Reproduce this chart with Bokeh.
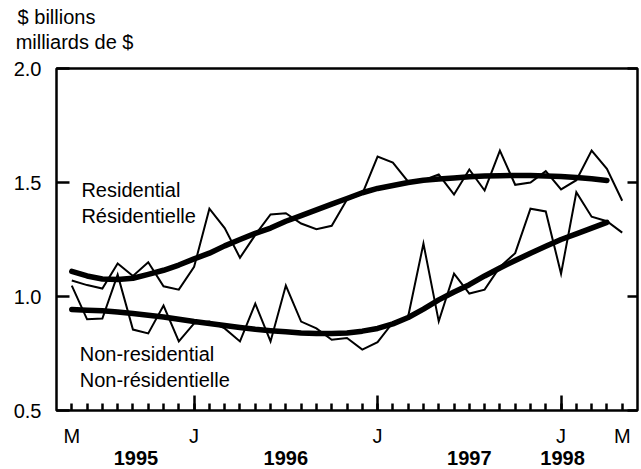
from bokeh.plotting import figure
from bokeh.models import Range1d, LinearAxis, FixedTicker, Label
from bokeh.embed import file_html
from bokeh.resources import INLINE

# Months: index 0 = May 1995 ... 36 = May 1998
months = list(range(37))

residential = [1.07, 1.05, 1.035, 1.145, 1.09, 1.15, 1.045, 1.03, 1.13, 1.385,
               1.30, 1.17, 1.27, 1.36, 1.365, 1.32, 1.295, 1.31, 1.425, 1.45,
               1.614, 1.587, 1.504, 1.51, 1.535, 1.447, 1.557, 1.465, 1.64, 1.49,
               1.50, 1.55, 1.47, 1.51, 1.64, 1.56, 1.42]

residential_trend = [1.11, 1.09, 1.077, 1.075, 1.08, 1.097, 1.115, 1.138, 1.165, 1.19,
                     1.222, 1.25, 1.277, 1.30, 1.33, 1.355, 1.38, 1.405, 1.43, 1.455,
                     1.474, 1.487, 1.50, 1.51, 1.515, 1.52, 1.525, 1.528, 1.53, 1.531,
                     1.531, 1.529, 1.526, 1.522, 1.516, 1.509]

non_residential = [1.048, 0.90, 0.903, 1.096, 0.855, 0.838, 0.96, 0.803, 0.882, 0.89,
                   0.86, 0.803, 0.969, 0.803, 1.048, 0.89, 0.86, 0.81, 0.818, 0.767,
                   0.80, 0.886, 0.912, 1.232, 0.891, 1.10, 1.013, 1.03, 1.13, 1.19,
                   1.385, 1.373, 1.10, 1.457, 1.35, 1.33, 1.28]

non_residential_trend = [0.943, 0.94, 0.937, 0.932, 0.925, 0.918, 0.91, 0.90, 0.89, 0.882,
                         0.873, 0.864, 0.856, 0.85, 0.845, 0.84, 0.838, 0.838, 0.84, 0.848,
                         0.86, 0.88, 0.908, 0.945, 0.985, 1.02, 1.052, 1.09, 1.125, 1.158,
                         1.19, 1.22, 1.25, 1.275, 1.30, 1.325]

y_ticks = [0.5, 1.0, 1.5, 2.0]
y_tick_labels = ["0.5", "1.0", "1.5", "2.0"]
year_start_ticks = [8, 20, 32]
month_label_pos = [0, 8, 20, 32, 36]
month_labels = ["M", "J", "J", "J", "M"]
year_label_pos = [4.2, 14, 26, 32.1]
year_labels = ["1995", "1996", "1997", "1998"]
unit_label_pos = [-1.0, 0.18]
unit_labels = ["$ billions", "milliards de $"]
series_names = ["Residential", "Résidentielle", "Non-residential", "Non-résidentielle"]
series_name_x = [0.63, 0.63, 0.52, 0.52]
series_name_y = [1.469, 1.355, 0.747, 0.632]

FONT = "Liberation Sans"
FS = "20px"

p = figure(frame_width=581, frame_height=342,
           x_range=Range1d(-1, 37), y_range=Range1d(0.5, 2.0),
           x_axis_type=None, y_axis_type=None,
           output_backend="svg", toolbar_location=None,
           min_border_left=56, min_border_right=4, min_border_top=68, min_border_bottom=0)
p.outline_line_color = "black"
p.outline_line_width = 2.5
p.outline_line_alpha = 1.0
p.background_fill_color = "white"
p.border_fill_color = "white"


def text_axis(ticks, labels, side, standoff, bold=False):
    ax = LinearAxis(ticker=FixedTicker(ticks=ticks),
                    major_label_overrides={t: s for t, s in zip(ticks, labels)})
    ax.axis_line_color = None
    ax.major_tick_line_color = None
    ax.minor_tick_line_color = None
    ax.major_tick_in = 0
    ax.major_tick_out = 0
    ax.minor_tick_in = 0
    ax.minor_tick_out = 0
    ax.major_label_text_font = FONT
    ax.major_label_text_font_size = FS
    ax.major_label_text_font_style = "bold" if bold else "normal"
    ax.major_label_text_color = "black"
    ax.major_label_standoff = standoff
    p.add_layout(ax, side)
    return ax


# Left axis
yl = LinearAxis(ticker=FixedTicker(ticks=y_ticks),
                major_label_overrides={t: s for t, s in zip(y_ticks, y_tick_labels)})
yl.axis_line_color = None
yl.major_tick_in = 13
yl.major_tick_out = 0
yl.major_tick_line_width = 2.5
yl.minor_tick_line_color = None
yl.major_label_text_font = FONT
yl.major_label_text_font_size = FS
yl.major_label_text_color = "black"
yl.major_label_standoff = 15
p.add_layout(yl, "left")

# Right axis (ticks only)
yr = LinearAxis(ticker=FixedTicker(ticks=y_ticks),
                major_label_overrides={t: "" for t in y_ticks})
yr.axis_line_color = None
yr.major_tick_in = 10
yr.major_tick_out = 0
yr.major_tick_line_width = 2.5
yr.minor_tick_line_color = None
yr.major_label_text_font_size = "1px"
yr.major_label_standoff = 0
p.add_layout(yr, "right")

# Bottom axis (month ticks only)
xb = LinearAxis(ticker=FixedTicker(ticks=year_start_ticks, minor_ticks=months),
                major_label_overrides={t: "" for t in year_start_ticks})
xb.axis_line_color = None
xb.major_tick_in = 15
xb.major_tick_out = 0
xb.major_tick_line_width = 2.5
xb.minor_tick_in = 7
xb.minor_tick_out = 0
xb.minor_tick_line_width = 2.5
xb.minor_tick_line_color = "black"
xb.major_label_text_font_size = "1px"
xb.major_label_standoff = 0
p.add_layout(xb, "below")

# Month and year label rows
text_axis(month_label_pos, month_labels, "below", 14)
text_axis(year_label_pos, year_labels, "below", 1, bold=True)

# Units above the frame (nearest first)
text_axis([unit_label_pos[1]], [unit_labels[1]], "above", 16)
text_axis([unit_label_pos[0]], [unit_labels[0]], "above", 0)

# Lines
p.line(months, residential, line_color="black", line_width=2, line_join="miter")
p.line(months, non_residential, line_color="black", line_width=2, line_join="miter")
p.line(months[:len(residential_trend)], residential_trend, line_color="black", line_width=5.5,
       line_join="round", line_cap="round")
p.line(months[:len(non_residential_trend)], non_residential_trend, line_color="black",
       line_width=5.5, line_join="round", line_cap="round")

# Series labels (inside the frame)
for sx, sy, name in zip(series_name_x, series_name_y, series_names):
    p.add_layout(Label(x=sx, y=sy, text=name, text_font=FONT, text_font_size=FS,
                       text_align="left", text_baseline="alphabetic", text_color="black"))

open("out.html", "w").write(file_html(p, INLINE))
